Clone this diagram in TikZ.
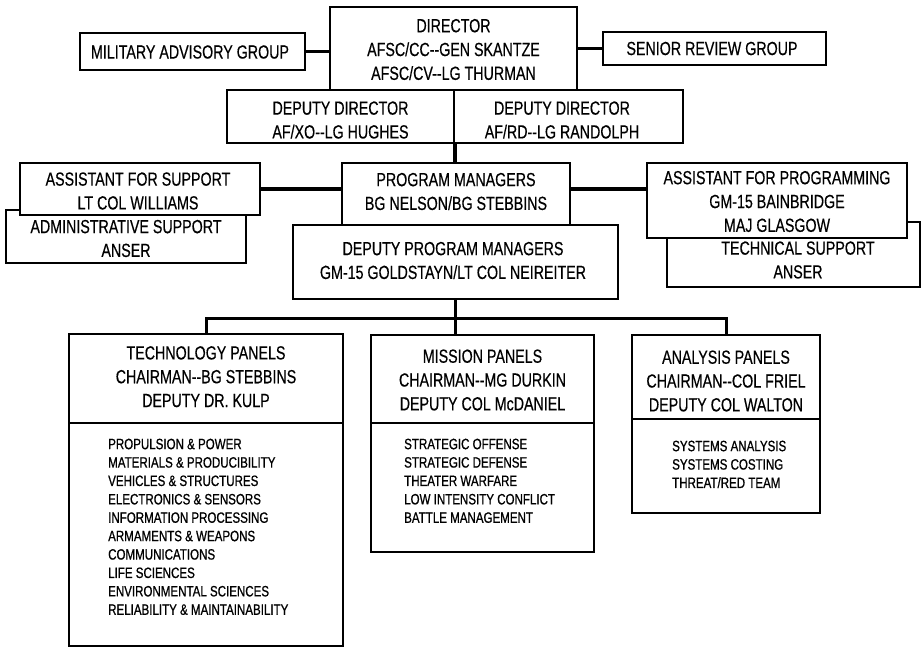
\documentclass[tikz,border=0pt]{standalone}
\usepackage{fontspec}
\setmainfont{Liberation Sans}[FakeStretch=0.75, FakeBold=0.4]
\newfontfamily\lsfam{Liberation Sans}[FakeStretch=0.77, FakeBold=0.8]
\newcommand\hdfont{\fontsize{19}{23.8}\selectfont}
\newcommand\lsfont{\lsfam\fontsize{15}{18.4}\selectfont}
\newcommand\dd{-{}-}
\tikzset{
  box/.style={draw, line width=2.2pt, fill=white, inner sep=0pt},
  txt/.style={inner sep=0pt, align=center, font=\hdfont},
  link/.style={line width=3.5pt},
  buslink/.style={line width=3pt},
  lst/.style={anchor=north west, inner sep=0pt, align=left, font=\lsfont},
}
\begin{document}
\begin{tikzpicture}[x=1pt,y=-1pt]
\fill[white] (0,0) rectangle (923,649);
\useasboundingbox (0,0) rectangle (923,649);

% top level
\node[box, minimum width=247pt, minimum height=83pt] (dir) at (453.5,48.5) {};
\node[txt] (dirt) at (453.5,49.5) {DIRECTOR\\AFSC/CC\dd GEN SKANTZE\\AFSC/CV\dd LG THURMAN};
\node[box, minimum width=225pt, minimum height=37pt] (mag) at (192.5,51.5) {};
\node[txt] (magt) at (190,52) {MILITARY ADVISORY GROUP};
\node[box, minimum width=223pt, minimum height=33pt] (srg) at (714.5,48.5) {};
\node[txt] (srgt) at (712,48.5) {SENIOR REVIEW GROUP};
\node[box, minimum width=227pt, minimum height=53pt] (depl) at (340.5,116.5) {};
\node[txt] (deplt) at (340.5,120) {DEPUTY DIRECTOR\\AF/XO\dd LG HUGHES};
\node[box, minimum width=229pt, minimum height=53pt] (depr) at (568.5,116.5) {};
\node[txt] (deprt) at (562,120) {DEPUTY DIRECTOR\\AF/RD\dd LG RANDOLPH};

% middle level
\node[box, minimum width=228pt, minimum height=62pt] (pm) at (456,194) {};
\node[txt] (pmt) at (456,191.5) {PROGRAM MANAGERS\\BG NELSON/BG STEBBINS};
\node[box, minimum width=325pt, minimum height=74pt] (dpm) at (455.5,262) {};
\node[txt] (dpmt) at (453,260.5) {DEPUTY PROGRAM MANAGERS\\GM-15 GOLDSTAYN/LT COL NEIREITER};
\node[box, minimum width=240pt, minimum height=53pt] (adm) at (126,236.5) {};
\node[txt] (admt) at (126,238.5) {ADMINISTRATIVE SUPPORT\\ANSER};
\node[box, minimum width=240pt, minimum height=52pt] (afs) at (140,189) {};
\node[txt] (afst) at (138,191) {ASSISTANT FOR SUPPORT\\LT COL WILLIAMS};
\node[box, minimum width=253pt, minimum height=65pt] (tsup) at (793.5,254.5) {};
\node[txt] (tsupt) at (798,260) {TECHNICAL SUPPORT\\ANSER};
\node[box, minimum width=260pt, minimum height=75pt] (afp) at (777,200.5) {};
\node[txt] (afpt) at (777,201.5) {ASSISTANT FOR PROGRAMMING\\GM-15 BAINBRIDGE\\MAJ GLASGOW};

% panels
\node[box, minimum width=274pt, minimum height=89pt] (techh) at (206,378.5) {};
\node[txt] (techt) at (206,376.7) {TECHNOLOGY PANELS\\CHAIRMAN\dd BG STEBBINS\\DEPUTY DR. KULP};
\node[box, minimum width=274pt, minimum height=223pt] (techb) at (206,534.5) {};
\node[box, minimum width=223pt, minimum height=88pt] (mish) at (482.5,379) {};
\node[txt] (mist) at (482.5,380) {MISSION PANELS\\CHAIRMAN\dd MG DURKIN\\DEPUTY COL McDANIEL};
\node[box, minimum width=223pt, minimum height=129pt] (misb) at (482.5,487.5) {};
\node[box, minimum width=188pt, minimum height=84pt] (anah) at (726,377) {};
\node[txt] (anat) at (726,381) {ANALYSIS PANELS\\CHAIRMAN\dd COL FRIEL\\DEPUTY COL WALTON};
\node[box, minimum width=188pt, minimum height=94pt] (anab) at (726,466) {};

\node[lst] (techl) at (108,438.5) {PROPULSION \& POWER\\MATERIALS \& PRODUCIBILITY\\VEHICLES \& STRUCTURES\\ELECTRONICS \& SENSORS\\INFORMATION PROCESSING\\ARMAMENTS \& WEAPONS\\COMMUNICATIONS\\LIFE SCIENCES\\ENVIRONMENTAL SCIENCES\\RELIABILITY \& MAINTAINABILITY};
\node[lst] (misl) at (404,438.5) {STRATEGIC OFFENSE\\STRATEGIC DEFENSE\\THEATER WARFARE\\LOW INTENSITY CONFLICT\\BATTLE MANAGEMENT};
\node[lst] (anal) at (672,440.5) {SYSTEMS ANALYSIS\\SYSTEMS COSTING\\THREAT/RED TEAM};

% connectors
\draw[link] (mag.east) -- (mag.east -| dir.west);
\draw[link] (dir.east |- srg.west) -- (srg.west);
\draw[link] (depl.south east) -- (depl.south east |- pm.north);
\draw[link] (afs.east) -- (afs.east -| pm.west);
\draw[link] (afs.east -| pm.east) -- (afs.east -| afp.west);
\coordinate (bus) at (455,318);
\draw[link] (dpm.south) -- (dpm.south |- mish.north);
\draw[buslink] (techh.north) |- (bus) -| (anah.north);
\end{tikzpicture}
\end{document}
